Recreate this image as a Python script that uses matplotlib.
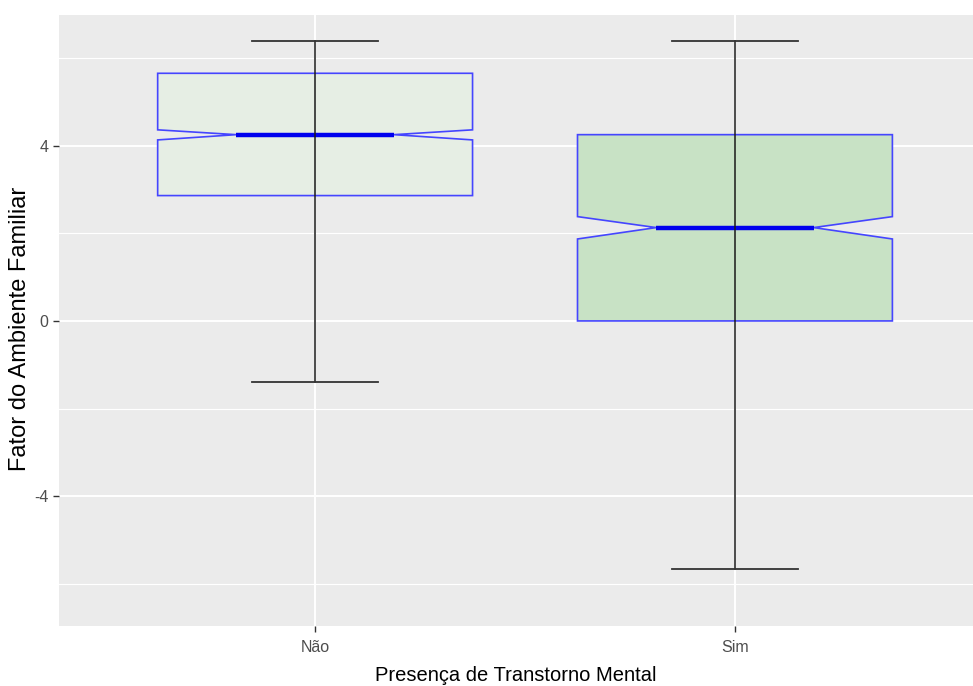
import numpy as np
import matplotlib
matplotlib.use("Agg")
import matplotlib.pyplot as plt
from matplotlib.patches import Polygon

plt.rcParams['font.family'] = ['Liberation Sans', 'DejaVu Sans']

grupos = ["Não", "Sim"]
lim_inf = [-1.4, -5.65]
q1 = [2.86, 0.0]
mediana = [4.25, 2.13]
q3 = [5.65, 4.25]
lim_sup = [6.38, 6.38]
notch_inf = [4.13, 1.87]
notch_sup = [4.36, 2.38]
cores = ["#e6eee4", "#c8e2c5"]

fig = plt.figure(figsize=(9.73, 6.86), dpi=100)
ax = fig.add_axes([59/973, 60/686, (973-59)/973, (626-15)/686])
ax.set_facecolor("#ebebeb")

largura = 0.75
larg_erro = 0.3
for i, g in enumerate(grupos):
    x = i + 1
    xmin, xmax = x - largura/2, x + largura/2
    ind = 0.25 * largura
    xs = [xmin, xmin, xmin + ind, xmin, xmin, xmax, xmax, xmax - ind, xmax, xmax, xmin]
    ys = [q3[i], notch_sup[i], mediana[i], notch_inf[i], q1[i], q1[i], notch_inf[i],
          mediana[i], notch_sup[i], q3[i], q3[i]]
    ax.add_patch(Polygon(np.column_stack([xs, ys]), closed=True, facecolor=cores[i],
                         edgecolor="#4545ff", lw=1.2, zorder=3))
    ax.plot([xmin + ind, xmax - ind], [mediana[i], mediana[i]], color="#0000ee",
            lw=3.2, solid_capstyle="butt", zorder=4)
    ax.plot([x, x], [lim_inf[i], lim_sup[i]], color="#1a1a1a", lw=1.1, zorder=5)
    for v in (lim_inf[i], lim_sup[i]):
        ax.plot([x - larg_erro/2, x + larg_erro/2], [v, v], color="#333333", lw=1.3, zorder=5)

ax.set_xlim(0.39, 2.567)
ax.set_ylim(-6.96, 6.98)
ax.set_xticks([1, 2])
ax.set_xticklabels(grupos)
ax.set_yticks([-4, 0, 4])
ax.set_yticklabels(["-4", "0", "4"])
ax.set_yticks([-6, -2, 2, 6], minor=True)
ax.grid(which="major", color="white", lw=1.4, zorder=0)
ax.grid(which="minor", axis="y", color="white", lw=0.8, zorder=0)
ax.set_axisbelow(True)
ax.tick_params(which="major", length=4, color="#333333", labelsize=11.5, labelcolor="#4d4d4d", width=1)
ax.tick_params(axis="x", pad=6)
ax.tick_params(which="minor", length=0)
for s in ax.spines.values():
    s.set_visible(False)

ax.set_xlabel("Presença de Transtorno Mental", fontsize=14.5, color="black", labelpad=8)
ax.set_ylabel("Fator do Ambiente Familiar", fontsize=17, color="black")
ax.yaxis.set_label_coords(-0.031, 0.487)

fig.savefig("out.png", dpi=100)
